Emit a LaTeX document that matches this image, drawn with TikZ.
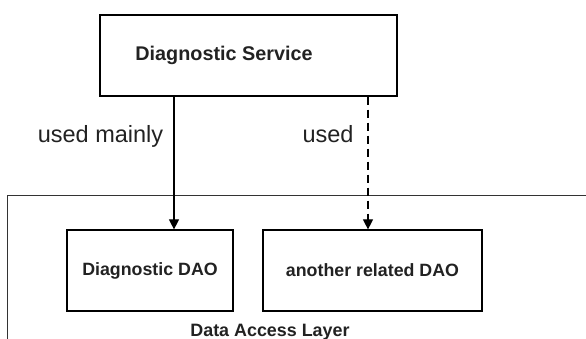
\documentclass[tikz,border=0pt]{standalone}
\usepackage{fontspec}
\setmainfont{Liberation Sans}
\usetikzlibrary{arrows.meta}
\definecolor{txt}{HTML}{222222}
\tikzset{
  box/.style={draw=black, line width=1.2pt, inner sep=0pt, text=txt, font=\bfseries\fontsize{17.8}{21}\selectfont},
  btxt/.style={text=txt, inner sep=0pt, font=\bfseries\fontsize{19.8}{23}\selectfont},
  lbl/.style={text=txt, inner sep=0pt, anchor=base, font=\fontsize{23.5}{28}\selectfont},
  conn/.style={draw=black, line width=1.1pt, -{Triangle[length=10pt,width=10pt]}},
  dconn/.style={conn, dash pattern=on 8pt off 5pt},
}
\begin{document}
\begin{tikzpicture}[x=1pt,y=-1pt]
\clip (0,0) rectangle (586,339);
\useasboundingbox (0,0) rectangle (586,339);
% layer frame
\coordinate (lbl) at (7,345);
\coordinate (ltl) at (7,196);
\coordinate (ltr) at (600,196);
\draw[line width=1pt, draw=black!80] (lbl) -- (ltl) -- (ltr);
\node[text=txt, inner sep=0pt, anchor=base, font=\bfseries\fontsize{17.9}{21}\selectfont] (layer) at (270,336) {Data Access Layer};
% boxes
\node[box, minimum width=297pt, minimum height=81pt] (svc) at (248.5,55.5) {};
\node[btxt] (svct) at (224,55.5) {Diagnostic Service};
\node[box, minimum width=166pt, minimum height=81pt] (dao) at (150,270.5) {Diagnostic DAO};
\node[box, minimum width=219pt, minimum height=81pt] (other) at (372.5,270.5) {another related DAO};
% connectors
\draw[conn] (svc.south -| 174,0) -- (dao.north -| 174,0);
\draw[dconn] (svc.south -| 368,0) -- (other.north -| 368,0);
% labels
\node[lbl] (l1) at (100.5,143) {used mainly};
\node[lbl] (l2) at (328,143) {used};
\end{tikzpicture}
\end{document}
